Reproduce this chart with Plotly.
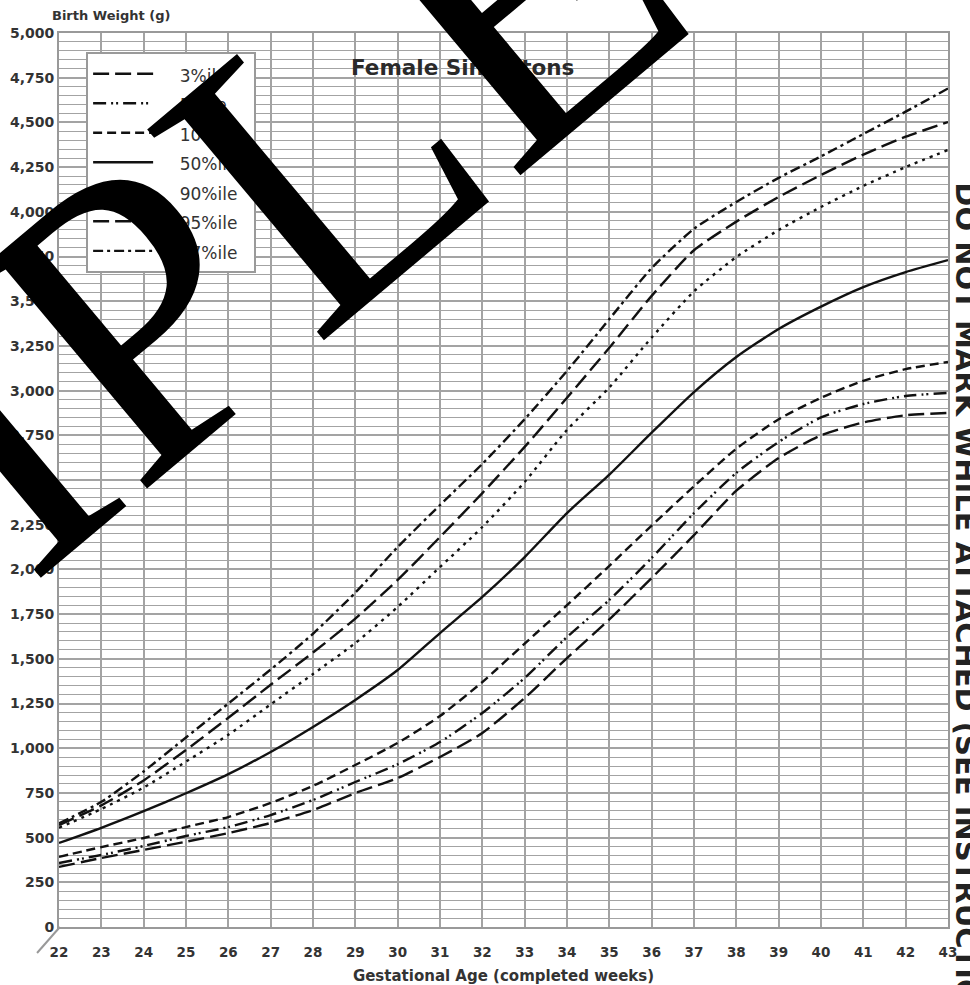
import plotly.graph_objects as go

weeks = list(range(22, 44))
p3 = [336, 386, 431, 477, 525, 582, 654, 749, 833, 951, 1085, 1281, 1504, 1720, 1952, 2192, 2440, 2623, 2750, 2822, 2862, 2875]
p5 = [358, 403, 453, 509, 559, 626, 710, 811, 910, 1035, 1197, 1393, 1622, 1829, 2064, 2315, 2540, 2713, 2850, 2925, 2970, 2987]
p10 = [392, 447, 498, 559, 615, 694, 789, 906, 1029, 1180, 1370, 1585, 1800, 2020, 2245, 2465, 2675, 2840, 2960, 3055, 3120, 3160]
p50 = [470, 555, 648, 748, 855, 979, 1119, 1270, 1437, 1644, 1846, 2069, 2315, 2530, 2765, 2992, 3188, 3345, 3470, 3579, 3663, 3730]
p90 = [555, 660, 780, 925, 1075, 1245, 1415, 1588, 1790, 2013, 2237, 2489, 2780, 3018, 3297, 3555, 3747, 3898, 4027, 4145, 4250, 4346]
p95 = [570, 680, 820, 990, 1170, 1355, 1535, 1725, 1941, 2181, 2427, 2685, 2960, 3240, 3530, 3785, 3945, 4083, 4206, 4320, 4420, 4502]
p97 = [580, 700, 870, 1060, 1250, 1440, 1640, 1870, 2125, 2360, 2590, 2840, 3110, 3400, 3685, 3905, 4055, 4190, 4310, 4435, 4560, 4690]

series_names = ["3%ile", "5%ile", "10%ile", "50%ile", "90%ile", "95%ile", "97%ile"]
series_values = [p3, p5, p10, p50, p90, p95, p97]
dashes = ["16px,6px", "13px,5px,2px,3px,2px,5px", "9px,5px", "solid",
          "3px,5px", "16px,6px", "10px,4px,3px,4px"]

y_ticks = list(range(0, 5001, 250))
y_tick_labels = [f"{v:,}" for v in y_ticks]

NBSP = "\u00a0"
fig = go.Figure()
for name, vals, dash in zip(series_names, series_values, dashes):
    fig.add_trace(go.Scatter(
        x=weeks, y=vals, mode="lines", legendgroup=name,
        name='<span style="font-size:17px">' + NBSP * 4 + name + NBSP * 2 + "</span>",
        line=dict(color="#111111", width=2.4, dash=dash, shape="spline", smoothing=0.6),
        hovertemplate=name + ": %{y:,} g at %{x} wk<extra></extra>",
    ))

grid_col = "#a3a3a3"
fig.update_layout(
    width=970, height=985, autosize=False,
    margin=dict(l=59, r=22, t=33, b=58, autoexpand=False),
    paper_bgcolor="white", plot_bgcolor="white",
    font=dict(family="DejaVu Sans", color="#333333"),
    showlegend=True,
    legend=dict(
        x=0.0305, y=0.9788, xanchor="left", yanchor="top",
        bgcolor="white", bordercolor="#9a9a9a", borderwidth=2,
        font=dict(family="DejaVu Sans", size=20.4, color="#333333"),
        tracegroupgap=0, itemwidth=60, traceorder="normal",
    ),
    xaxis=dict(
        range=[22, 43], tickmode="array", tickvals=weeks, ticktext=[str(w) for w in weeks],
        showgrid=True, gridcolor=grid_col, gridwidth=1.6, automargin=False,
        showline=True, linecolor="#999999", linewidth=2, mirror=True,
        zeroline=False, ticks="", ticklabelstandoff=12,
        tickfont=dict(family="DejaVu Sans", size=13.5, color="#333333", weight="bold"),
        title=dict(text="<b>Gestational Age (completed weeks)</b>",
                   font=dict(family="DejaVu Sans", size=15, color="#333333"), standoff=11),
    ),
    yaxis=dict(
        range=[0, 5000], tickmode="array", tickvals=y_ticks, ticktext=y_tick_labels,
        showgrid=True, gridcolor=grid_col, gridwidth=1.6, automargin=False,
        minor=dict(dtick=50, showgrid=True, gridcolor=grid_col, gridwidth=1.3),
        showline=True, linecolor="#999999", linewidth=2, mirror=True,
        zeroline=False, ticks="", ticklabelstandoff=0,
        tickfont=dict(family="DejaVu Sans", size=14, color="#333333", weight="bold"),
    ),
)

fig.add_annotation(text="<b>Birth Weight (g)</b>", xref="paper", yref="paper",
                   x=-0.01, y=1.0201, xanchor="left", yanchor="middle", showarrow=False,
                   font=dict(family="DejaVu Sans", size=13, color="#333333"))
fig.add_annotation(text="<b>Female Singletons</b>", xref="paper", yref="paper",
                   x=0.4544, y=0.9609, xanchor="center", yanchor="middle", showarrow=False,
                   font=dict(family="DejaVu Sans", size=21.5, color="#2a2a2a"))
fig.add_annotation(text="<b>DO NOT MARK WHILE ATTACHED (SEE INSTRUCTIONS)</b>", xref="paper", yref="paper",
                   x=1.0198, y=0.8356, xanchor="center", yanchor="top", textangle=90, showarrow=False,
                   font=dict(family="DejaVu Sans", size=29, color="#222222"))
fig.add_annotation(text="SAMPLE", xref="paper", yref="paper",
                   x=-0.0866, y=0.5414, xanchor="center", yanchor="middle", textangle=-40, showarrow=False,
                   font=dict(family="Liberation Serif", size=420, color="#000000"))

# axis break mark at the origin
fig.add_shape(type="line", xref="paper", yref="paper",
              x0=-0.0247, y0=-0.0291, x1=0.001, y1=0.0,
              line=dict(color="#999999", width=2))

fig.write_html(
    "out.html",
    config={"displayModeBar": False},
    post_script="document.body.style.margin='0px';document.body.style.padding='0px';"
                "document.body.style.overflow='hidden';",
)
